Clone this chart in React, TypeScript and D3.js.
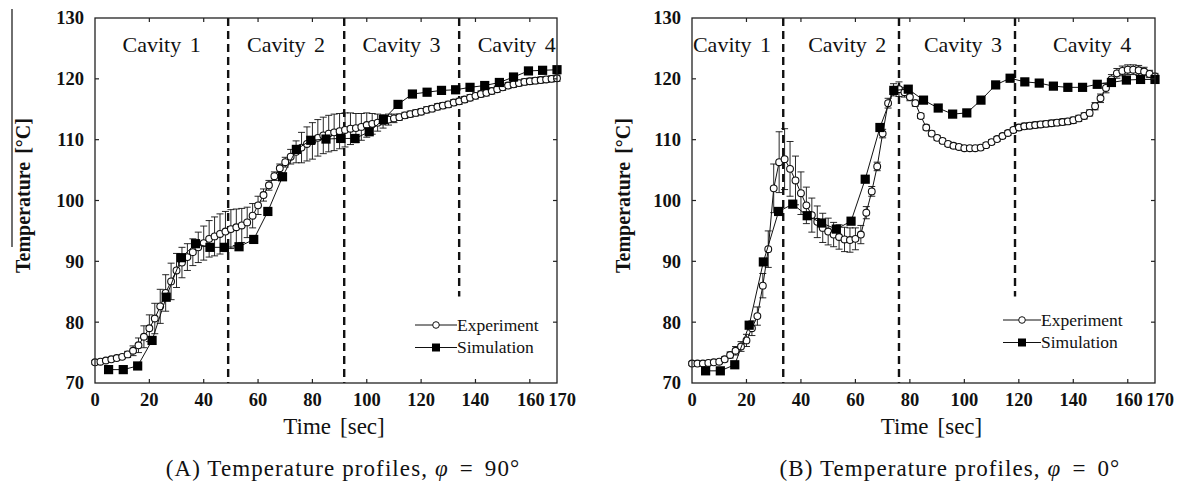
import React from "react";
import * as d3 from "d3";

// ---------- data ----------
const expTime = [0,2,4,6,8,10,12,14,16,18,20,22,24,26,28,30,32,34,36,38,40,42,44,46,48,50,52,54,56,58,60,62,64,66,68,70,72,74,76,78,80,82,84,86,88,90,92,94,96,98,100,102,104,106,108,110,112,114,116,118,120,122,124,126,128,130,132,134,136,138,140,142,144,146,148,150,152,154,156,158,160,162,164,166,168,170];

const simTime = [5,10.4,15.7,21,26.2,31.8,37,42.3,47.6,53,58.4,63.6,69,74.1,79.4,85,90.4,95.7,100.9,106.1,111.5,116.8,122.2,127.5,132.7,138,143.4,148.8,154,159.5,164.7,170];

// (A) phi = 90
const expA = [73.4,73.5,73.7,73.9,74.1,74.3,74.7,75.3,76.2,77.6,
  79.0,80.6,82.6,84.8,86.7,88.5,89.8,90.7,91.5,92.3,
  93.0,93.7,94.1,94.5,94.9,95.3,95.6,95.9,96.4,97.5,
  99.2,100.9,102.5,104.0,105.3,106.3,107.2,108.0,108.7,109.3,
  109.8,110.3,110.7,111.0,111.2,111.4,111.6,111.8,111.9,112.1,
  112.4,112.6,112.8,113.0,113.3,113.5,113.7,114.0,114.2,114.4,
  114.6,114.9,115.1,115.4,115.6,115.8,116.1,116.3,116.6,116.9,
  117.2,117.5,117.7,118.0,118.3,118.6,118.9,119.1,119.3,119.5,
  119.6,119.7,119.8,119.9,120.0,120.1];
const errA = [0.3,0.3,0.3,0.3,0.3,0.3,0.5,0.8,1.2,1.8,
  2.2,2.5,2.8,3.0,3.0,2.8,2.5,2.2,2.2,2.5,
  2.8,3.0,3.2,3.3,3.3,3.2,3.0,2.8,2.5,2.0,
  1.5,1.0,0.8,0.7,0.7,0.8,1.2,1.8,2.5,2.8,
  3.0,3.0,3.0,3.0,3.0,2.9,2.8,2.6,2.4,2.2,
  2.0,1.7,1.4,1.1,0.9,0.7,0.5,0.5,0.5,0.5,
  0.5,0.5,0.5,0.5,0.5,0.5,0.5,0.5,0.5,0.5,
  0.5,0.5,0.5,0.5,0.5,0.5,0.5,0.5,0.5,0.5,
  0.5,0.5,0.5,0.5,0.5,0.5];
const simA = [72.2,72.2,72.8,77.0,84.1,90.6,92.9,92.3,92.3,92.4,93.6,98.2,103.9,108.4,109.9,110.1,110.2,110.2,111.3,113.3,115.8,117.5,117.8,118.1,118.2,118.6,118.9,119.4,120.3,121.3,121.4,121.5];
const cavityBoundsA = [49, 91.7, 134];
const cavityLabelPosA = [24.5, 70.3, 112.8, 155.2];

// (B) phi = 0
const expB = [73.2,73.2,73.2,73.3,73.4,73.5,73.9,74.6,75.3,76.0,
  77.0,79.0,81.0,86.0,92.0,102.0,106.3,106.8,105.2,103.3,
  101.2,99.2,97.6,96.5,95.5,94.9,94.4,94.0,93.6,93.5,
  93.7,94.4,98.0,101.5,105.6,111.0,116.0,118.2,118.3,117.8,
  117.0,116.0,113.9,112.0,111.0,110.3,109.8,109.3,109.0,108.8,
  108.6,108.6,108.6,108.7,109.1,109.6,110.1,110.6,111.1,111.6,
  112.0,112.2,112.3,112.4,112.5,112.6,112.7,112.8,112.9,113.0,
  113.2,113.5,113.9,114.4,115.5,116.8,118.5,119.9,120.9,121.3,
  121.5,121.5,121.4,121.2,120.8,120.4];
const errB = [0.3,0.3,0.3,0.3,0.3,0.3,0.4,0.5,0.7,0.8,
  1.0,1.2,1.5,2.0,3.0,4.0,5.0,5.0,4.5,4.0,
  3.5,3.0,2.8,2.6,2.4,2.2,2.0,2.0,2.0,2.0,
  1.8,1.5,1.0,0.8,0.7,0.7,0.8,1.0,1.2,0.8,
  0.6,0.5,0.4,0.4,0.4,0.4,0.4,0.4,0.4,0.4,
  0.4,0.4,0.4,0.4,0.4,0.4,0.4,0.4,0.4,0.4,
  0.5,0.5,0.5,0.5,0.5,0.5,0.5,0.5,0.5,0.5,
  0.5,0.5,0.5,0.5,0.6,0.7,0.8,0.8,0.8,0.8,
  0.8,0.8,0.8,0.7,0.6,0.5];
const simB = [72.0,72.0,73.0,79.5,89.9,98.2,99.4,97.5,96.3,95.3,96.6,103.5,112.0,118.1,118.3,116.5,115.2,114.2,114.4,116.5,119.0,120.1,119.5,119.3,118.8,118.6,118.6,119.1,119.4,119.8,119.9,119.9];
const cavityBoundsB = [33.5, 76, 118.6];
const cavityLabelPosB = [14.7, 57, 99.5, 146.9];

const cavityNames = ["Cavity 1", "Cavity 2", "Cavity 3", "Cavity 4"];
const xTicks = [0, 20, 40, 60, 80, 100, 120, 140, 160, 170];
const yTicks = [70, 80, 90, 100, 110, 120, 130];
const seriesNames = ["Experiment", "Simulation"];
const xLabel = "Time";
const xUnit = "[sec]";
const yLabel = "Temperature";
const yUnit = "[°C]";

const SERIF = "Liberation Serif";

type PanelProps = {
  left: number; right: number; top: number; bottom: number;
  exp: number[]; err: number[]; sim: number[];
  bounds: number[]; labelPos: number[];
  legendX: number; legendY: number; legendW: number;
  ylabelX: number; captionX: number; caption: string; angle: string;
  overline?: boolean;
};

const serifStyle = { fontFamily: SERIF } as React.CSSProperties;

function Panel(p: PanelProps) {
  const x = d3.scaleLinear().domain([0, 170]).range([p.left, p.right]);
  const y = d3.scaleLinear().domain([70, 130]).range([p.bottom, p.top]);
  const line = d3.line<[number, number]>().x(d => x(d[0])).y(d => y(d[1]));
  const expPts: [number, number][] = expTime.map((t, i) => [t, p.exp[i]]);
  const simPts: [number, number][] = simTime.map((t, i) => [t, p.sim[i]]);
  const cap = 3.5;
  const tickLen = 4;
  return (
    <g style={serifStyle}>
      {p.bounds.map((b, i) => (
        <line key={"b" + i} x1={x(b)} x2={x(b)} y1={p.top}
          y2={i === 2 ? y(84.2) : p.bottom}
          stroke="#111" strokeWidth={2.4} strokeDasharray="8,5" />
      ))}
      {expPts.map((d, i) => {
        const cx = x(d[0]);
        const y1 = y(d[1] + p.err[i]);
        const y2 = y(d[1] - p.err[i]);
        return (
          <g key={"e" + i} stroke="#111" strokeWidth={0.9}>
            <line x1={cx} x2={cx} y1={y1} y2={y2} />
            <line x1={cx - cap} x2={cx + cap} y1={y1} y2={y1} />
            <line x1={cx - cap} x2={cx + cap} y1={y2} y2={y2} />
          </g>
        );
      })}
      <path d={line(expPts) || ""} fill="none" stroke="#111" strokeWidth={1} />
      {expPts.map((d, i) => (
        <circle key={"c" + i} cx={x(d[0])} cy={y(d[1])} r={3.4}
          fill="white" stroke="#111" strokeWidth={1.1} />
      ))}
      <path d={line(simPts) || ""} fill="none" stroke="#111" strokeWidth={1} />
      {simPts.map((d, i) => (
        <rect key={"s" + i} x={x(d[0]) - 4.6} y={y(d[1]) - 4.6} width={9.2} height={9.2} fill="#000" />
      ))}
      <rect x={p.left} y={p.top} width={p.right - p.left} height={p.bottom - p.top}
        fill="none" stroke="#222" strokeWidth={1.3} />
      {xTicks.filter(t => t !== 0 && t !== 170).map(t => (
        <g key={"xt" + t} stroke="#222" strokeWidth={1.2}>
          <line x1={x(t)} x2={x(t)} y1={p.bottom} y2={p.bottom - tickLen} />
          <line x1={x(t)} x2={x(t)} y1={p.top} y2={p.top + tickLen} />
        </g>
      ))}
      {yTicks.filter(t => t !== 70 && t !== 130).map(t => (
        <g key={"yt" + t} stroke="#222" strokeWidth={1.2}>
          <line x1={p.left} x2={p.left + tickLen} y1={y(t)} y2={y(t)} />
          <line x1={p.right} x2={p.right - tickLen} y1={y(t)} y2={y(t)} />
        </g>
      ))}
      {xTicks.map(t => (
        <text key={"xl" + t} x={x(t) + (t === 170 ? 5 : t === 160 ? 1 : 0)} y={p.bottom + 23}
          textAnchor="middle" style={serifStyle} fontWeight="bold" fontSize={18.5} fill="#111">{t}</text>
      ))}
      {yTicks.map(t => (
        <text key={"yl" + t} x={p.left - 11} y={y(t)} dy="0.35em"
          textAnchor="end" style={serifStyle} fontWeight="bold" fontSize={18.5} fill="#111">{t}</text>
      ))}
      {cavityNames.map((n, i) => (
        <text key={"cv" + i} x={x(p.labelPos[i])} y={p.top + 34} textAnchor="middle"
          style={serifStyle} fontSize={22} fill="#111" wordSpacing={3}>{n}</text>
      ))}
      <text x={(p.left + p.right) / 2 + 8} y={p.bottom + 51} textAnchor="middle"
        style={serifStyle} fontSize={23} fill="#111">
        {xLabel}<tspan dx={9}>{xUnit}</tspan>
      </text>
      <text transform={`translate(${p.ylabelX},${(p.top + p.bottom) / 2 - 5}) rotate(-90)`}
        textAnchor="middle" style={serifStyle} fontWeight="bold" fontSize={20} fill="#111">
        {yLabel}<tspan dx={8}>{yUnit}</tspan>
      </text>
      {p.overline && (
        <line x1={12} x2={12} y1={9} y2={247} stroke="#222" strokeWidth={1.3} />
      )}
      {seriesNames.map((n, i) => {
        const ly = p.legendY + i * 22.5;
        const mx = p.legendX + p.legendW / 2;
        return (
          <g key={"lg" + i}>
            <line x1={p.legendX} x2={p.legendX + p.legendW} y1={ly} y2={ly} stroke="#111" strokeWidth={1} />
            {i === 0
              ? <circle cx={mx} cy={ly} r={3.3} fill="white" stroke="#111" strokeWidth={1} />
              : <rect x={mx - 4} y={ly - 4} width={8} height={8} fill="#000" />}
            <text x={p.legendX + p.legendW} y={ly + 5.5} style={serifStyle} fontSize={17.5}
              fill="#111">{n}</text>
          </g>
        );
      })}
      <text x={p.captionX} y={476} textAnchor="middle" style={serifStyle} fontSize={23}
        fill="#111" letterSpacing={1.1}>
        {p.caption}<tspan fontStyle="italic">φ</tspan><tspan dx={11}>=</tspan><tspan dx={11}>{p.angle}</tspan>
      </text>
    </g>
  );
}

export default function App() {
  return (
    <svg width={1179} height={486} viewBox="0 0 1179 486"
      style={{ position: "absolute", left: 0, top: 0, background: "white" }}>
      <rect x={0} y={0} width={1179} height={486} fill="white" />
      <Panel left={95} right={557} top={18} bottom={383}
        exp={expA} err={errA} sim={simA} bounds={cavityBoundsA} labelPos={cavityLabelPosA}
        legendX={415} legendY={325} legendW={42} ylabelX={30} captionX={343}
        caption="(A) Temperature profiles, " angle="90°" overline />
      <Panel left={692} right={1155} top={18} bottom={383}
        exp={expB} err={errB} sim={simB} bounds={cavityBoundsB} labelPos={cavityLabelPosB}
        legendX={1003} legendY={320} legendW={38} ylabelX={630} captionX={950}
        caption="(B) Temperature profiles, " angle="0°" />
    </svg>
  );
}
